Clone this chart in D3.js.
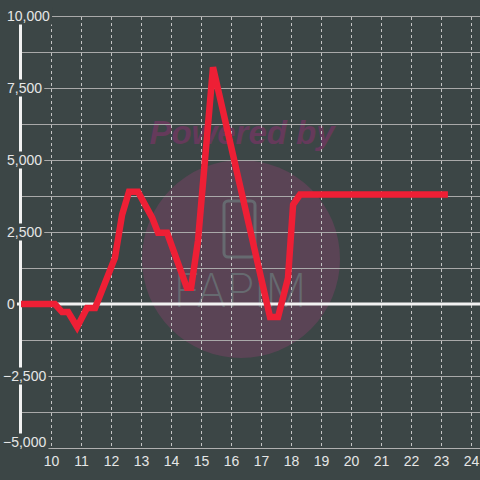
<!DOCTYPE html>
<html lang="en">
<head>
    <meta charset="UTF-8">
    <title></title>
    <style>
        body { margin: 0; background: #3c4646; }
        svg { display: block; }
    </style>
</head>
<body>
</body>
<script src="https://cdn.jsdelivr.net/npm/d3@7/dist/d3.min.js" charset="utf-8"></script>
<script>
    // data
    var xValues = [9, 10.13, 10.37, 10.57, 10.87, 11.2, 11.47, 12.13, 12.37, 12.6, 12.9, 13.37, 13.57, 13.87,
                   14.53, 14.67, 14.9, 15.4, 17.3, 17.57, 17.9, 18.07, 18.3, 23.23];
    var yValues = [0, 0, -280, -280, -800, -140, -140, 1600, 3100, 3900, 3900, 3000, 2470, 2470,
                   560, 560, 2200, 8220, -450, -450, 900, 3450, 3800, 3800];
    var xTicks = [10, 11, 12, 13, 14, 15, 16, 17, 18, 19, 20, 21, 22, 23, 24];
    var yTicks = [10000, 7500, 5000, 2500, 0, -2500, -5000];
    var yMinor = [8750, 6250, 3750, 1250, -1250, -3750];

    var W = 480, H = 480;
    var bg = "#3c4646";

    var svg = d3.select("body").append("svg")
            .attr("width", W)
            .attr("height", H);

    svg.append("rect").attr("width", W).attr("height", H).attr("fill", bg);

    var x = d3.scaleLinear().domain([10, 24]).range([51, 471]);
    var y = d3.scaleLinear().domain([-5000, 10000]).range([448, 16]);

    // watermark
    var wm = svg.append("g");
    wm.append("circle")
            .attr("cx", 241).attr("cy", 259).attr("r", 99)
            .attr("fill", "#5a4455");
    wm.append("text")
            .attr("x", 242).attr("y", 144)
            .attr("text-anchor", "middle")
            .style("font-family", "'Liberation Sans', Arial, sans-serif")
            .style("font-weight", "bold")
            .style("font-style", "italic")
            .style("font-size", "33px")
            .attr("fill", "#653a5b")
            .text("Powered by");
    wm.append("rect")
            .attr("x", 224).attr("y", 201).attr("width", 31).attr("height", 56)
            .attr("rx", 4)
            .attr("fill", "none")
            .attr("stroke", "#666a70")
            .attr("stroke-width", 3);
    wm.append("text")
            .attr("x", 240).attr("y", 307)
            .attr("text-anchor", "middle")
            .style("font-family", "Inter, 'DejaVu Sans', sans-serif")
            .style("font-weight", "200")
            .style("font-size", "46px")
            .attr("fill", "#666a70")
            .text("FAPiM");

    // horizontal grid
    svg.append("g").selectAll("line")
            .data(yTicks.concat(yMinor).filter(function(d) { return d !== 0; }))
            .enter().append("line")
            .attr("x1", 20).attr("x2", W)
            .attr("y1", function(d) { return y(d) + 0.5; })
            .attr("y2", function(d) { return y(d) + 0.5; })
            .attr("stroke", "#a9a9a9")
            .attr("stroke-width", 1);

    // vertical dashed grid
    svg.append("g").selectAll("line")
            .data(xTicks)
            .enter().append("line")
            .attr("x1", function(d) { return x(d) + 0.5; })
            .attr("x2", function(d) { return x(d) + 0.5; })
            .attr("y1", 17).attr("y2", 448)
            .attr("stroke", "#c4c4c4")
            .attr("stroke-width", 1)
            .attr("stroke-dasharray", "3,3");

    // x axis
    var xAxis = svg.append("g")
            .attr("transform", "translate(0,448)")
            .call(d3.axisBottom(x).tickValues(xTicks).tickSize(0).tickFormat(d3.format("d")));
    xAxis.select(".domain").remove();
    xAxis.append("line")
            .attr("x1", 51).attr("x2", W).attr("y1", 0.5).attr("y2", 0.5)
            .attr("stroke", "#b0b0b0");
    xAxis.selectAll("text")
            .attr("y", 18)
            .attr("dy", 0)
            .attr("fill", "#e6e6e6")
            .style("font-family", "'Liberation Sans', Arial, sans-serif")
            .style("font-size", "14px");

    // zero line
    svg.append("line")
            .attr("x1", 17).attr("x2", W)
            .attr("y1", y(0)).attr("y2", y(0))
            .attr("stroke", "#f2f2f2")
            .attr("stroke-width", 3);

    // y axis line
    svg.append("line")
            .attr("x1", 20.5).attr("x2", 20.5)
            .attr("y1", 16).attr("y2", 436)
            .attr("stroke", "#f2f2f2")
            .attr("stroke-width", 3);

    // y labels with backgrounds (bottom one kept inside the plot)
    var fmt = d3.format(",");
    var yl = svg.append("g").selectAll("g")
            .data(yTicks)
            .enter().append("g")
            .attr("transform", function(d) {
                return "translate(" + (d < 0 ? 3 : 7) + "," + Math.min(y(d), 442) + ")";
            });
    yl.append("rect").attr("class", "bg");
    yl.append("text")
            .attr("dy", "0.36em")
            .attr("fill", "#e6e6e6")
            .style("font-family", "'Liberation Sans', Arial, sans-serif")
            .style("font-size", "14px")
            .text(function(d) { return fmt(d); });
    yl.each(function() {
        var g = d3.select(this);
        var bb = g.select("text").node().getBBox();
        g.select("rect")
                .attr("x", bb.x - 2).attr("y", -8.5)
                .attr("width", bb.width + 4).attr("height", 17)
                .attr("fill", bg);
    });

    // series line
    var pts = xValues.map(function(d, i) { return [d, yValues[i]]; });
    svg.append("path")
            .datum(pts)
            .attr("d", d3.line()
                    .x(function(d) { return x(d[0]); })
                    .y(function(d) { return y(d[1]); }))
            .attr("fill", "none")
            .attr("stroke", "#ee1f35")
            .attr("stroke-width", 6.5);
</script>
</html>
